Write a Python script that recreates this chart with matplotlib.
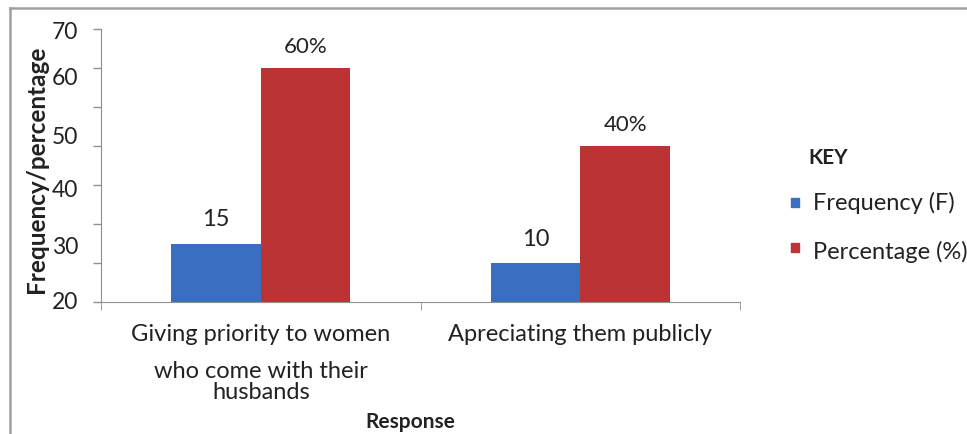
import matplotlib.pyplot as plt
import numpy as np

# survey responses and counts
responses = ["Giving priority to women\n\nwho come with their\nhusbands",
             "Apreciating them publicly"]
frequency = [15, 10]
percentage = [60, 40]
freq_labels = ["15", "10"]
pct_labels = ["60%", "40%"]

# printed y labels and where they sit on the 0-70 scale
ylabel_text = ["70", "60", "50", "40", "30", "20"]
ylabel_pos = [69.0, 57.4, 42.3, 28.7, 14.1, 0.0]

blue = "#3a6fbf"
red = "#bc3333"
font = ["Lato", "DejaVu Sans"]
ink = "#222222"

fig = plt.figure(figsize=(9.67, 4.34), dpi=100)
ax = fig.add_axes([0.1044, 0.304, 0.661, 0.629])

x = np.arange(len(responses))
w = 0.28
ax.bar(x - w / 2, frequency, w, color=blue, edgecolor="none")
ax.bar(x + w / 2, percentage, w, color=red, edgecolor="none")

for i in range(len(responses)):
    ax.annotate(freq_labels[i], (x[i] - w / 2, frequency[i]),
                xytext=(0, 17), textcoords="offset points",
                ha="center", va="center", fontsize=17, family=font, color=ink)
    ax.annotate(pct_labels[i], (x[i] + w / 2, percentage[i]),
                xytext=(0, 15), textcoords="offset points",
                ha="center", va="center", fontsize=16, family=font, color=ink)

ax.set_xlim(-0.5, 1.5)
ax.set_ylim(0, 70)

# tick marks every 10, labels placed separately
ax.set_yticks(np.arange(0, 71, 10))
ax.set_yticklabels([])
ax.tick_params(axis="y", length=6, color="#909090", width=1)
for t, v in zip(ylabel_text, ylabel_pos):
    ax.text(-0.5 - 0.072, v, t, ha="right", va="center", fontsize=16.5,
            family=font, color=ink, clip_on=False)

ax.set_xticks(x)
ax.set_xticklabels([])
ax.set_xticks([-0.5, 0.5, 1.5], minor=True)
ax.tick_params(axis="x", which="major", length=0)
ax.tick_params(axis="x", which="minor", length=6, color="#909090")
trans = ax.get_xaxis_transform()
for i, r in enumerate(responses):
    parts = r.split("\n\n")
    ax.text(x[i], -0.12, parts[0], transform=trans, ha="center", va="center",
            fontsize=17, family=font, color=ink)
    if len(parts) > 1:
        ax.text(x[i], -0.215, parts[1], transform=trans, ha="center",
                va="top", fontsize=17, family=font, color=ink,
                linespacing=1.0)

for s in ["top", "right"]:
    ax.spines[s].set_visible(False)
for s in ["left", "bottom"]:
    ax.spines[s].set_color("#909090")

fig.text(0.038, 0.61, "Frequency/percentage", rotation=90, ha="center",
         va="center", fontsize=17.5, fontweight="bold", family=font, color=ink)
fig.text(0.424, 0.028, "Response", ha="center", va="center", fontsize=15,
         fontweight="bold", family=font, color=ink)

# key
fig.text(0.836, 0.636, "KEY", ha="left", va="center", fontsize=15,
         fontweight="bold", family=font, color=ink)
fig.patches.append(plt.Rectangle((0.818, 0.524), 0.008, 0.020,
                                 transform=fig.transFigure, color=blue))
fig.text(0.841, 0.532, "Frequency (F)", ha="left", va="center",
         fontsize=17, family=font, color=ink)
fig.patches.append(plt.Rectangle((0.818, 0.420), 0.008, 0.020,
                                 transform=fig.transFigure, color=red))
fig.text(0.841, 0.420, "Percentage (%)", ha="left", va="center",
         fontsize=17, family=font, color=ink)

# outer frame lines
fig.add_artist(plt.Line2D([0.010, 1.0], [0.981, 0.981], color="#a0a0a0",
                          lw=1.8, transform=fig.transFigure))
fig.add_artist(plt.Line2D([0.010, 0.010], [0.0, 0.981], color="#a0a0a0",
                          lw=1.8, transform=fig.transFigure))

fig.savefig("out.png", dpi=100)
